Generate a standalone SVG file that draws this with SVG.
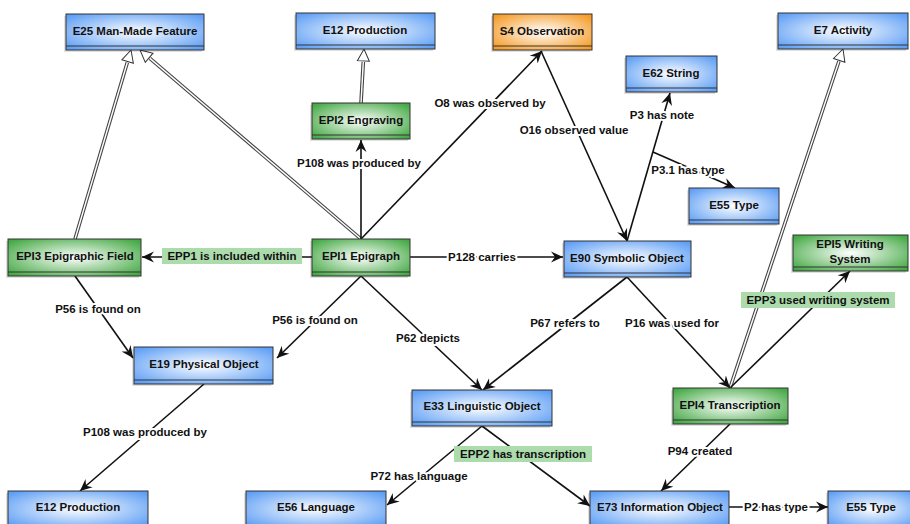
<svg xmlns="http://www.w3.org/2000/svg" width="910" height="524" viewBox="0 0 910 524">
<defs>
<radialGradient id="gb" cx="50%" cy="50%" r="65%">
<stop offset="0" stop-color="#ffffff"/><stop offset="1" stop-color="#5f9ff5"/>
</radialGradient>
<radialGradient id="gg" cx="50%" cy="50%" r="65%">
<stop offset="0" stop-color="#ffffff"/><stop offset="1" stop-color="#45a945"/>
</radialGradient>
<radialGradient id="go" cx="50%" cy="50%" r="65%">
<stop offset="0" stop-color="#ffffff"/><stop offset="1" stop-color="#f59a25"/>
</radialGradient>
<marker id="arr" markerUnits="userSpaceOnUse" markerWidth="14" markerHeight="12" refX="12" refY="6" orient="auto">
<path d="M0,0.5 L12,6 L0,11.5 L4,6 z" fill="#111"/>
</marker>
<marker id="gen" markerUnits="userSpaceOnUse" markerWidth="16" markerHeight="14" refX="13" refY="7" orient="auto">
<path d="M1,1 L13,7 L1,13 z" fill="#fff" stroke="#333" stroke-width="1"/>
</marker>
</defs>
<style>
text{font-family:"Liberation Sans",Arial,Helvetica,sans-serif;font-weight:bold;font-size:11.5px;fill:#111;}
.nt{text-anchor:middle;}
.box{stroke:#333;stroke-width:1;}
.b{fill:url(#gb);}
.g{fill:url(#gg);}
.o{fill:url(#go);}
.sh{fill:#000;opacity:0.12;}
.strip{stroke:#333;stroke-width:1;fill:none;}
.e{fill:none;stroke:#111;stroke-width:1.6;marker-end:url(#arr);}
.go{fill:none;stroke:#444;stroke-width:3.6;}
.gi{fill:none;stroke:#fff;stroke-width:1.4;}
.gt{fill:none;stroke:none;marker-end:url(#gen);}
.lb{text-anchor:middle;stroke:#fff;stroke-width:4;paint-order:stroke;stroke-linejoin:round;}
.gl{text-anchor:middle;}
.glb{fill:#acdcac;}
</style>

<g id="connectors">
<!-- generalizations -->
<path class="go" d="M75,239 L127.3,62.5"/><path class="gi" d="M75,239 L127.3,62.5"/><path class="gt" d="M127.3,62.5 L131,50"/>
<path class="go" d="M361,239 L149.9,58.4"/><path class="gi" d="M361,239 L149.9,58.4"/><path class="gt" d="M149.9,58.4 L140,50"/>
<path class="go" d="M361,103 L363.3,62"/><path class="gi" d="M361,103 L363.3,62"/><path class="gt" d="M363.3,62 L364,49"/>
<path class="go" d="M730,388 L838.9,61.3"/><path class="gi" d="M730,388 L838.9,61.3"/><path class="gt" d="M838.9,61.3 L843,49"/>
<!-- associations -->
<path class="e" d="M361,239 L361,140"/>
<path class="e" d="M361,239 L542,51"/>
<path class="e" d="M541,51 L627,241"/>
<path class="e" d="M627,241 L670,93"/>
<path class="e" d="M653,152 L735,188"/>
<path class="e" d="M410,257 L563,257"/>
<path class="e" d="M312,257 L142,257"/>
<path class="e" d="M75,276 L133,358"/>
<path class="e" d="M361,276 L277,358"/>
<path class="e" d="M361,276 L482,390"/>
<path class="e" d="M627,277 L483,390"/>
<path class="e" d="M627,277 L730,388"/>
<path class="e" d="M730,388 L850,271"/>
<path class="e" d="M204,384 L80,491"/>
<path class="e" d="M482,426 L387,505"/>
<path class="e" d="M482,426 L590,506"/>
<path class="e" d="M730,424 L661,491"/>
<path class="e" d="M729,507 L828,507"/>
<!-- labels -->
<text class="lb" x="359" y="167">P108 was produced by</text>
<text class="lb" x="490" y="107">O8 was observed by</text>
<text class="lb" x="574" y="134">O16 observed value</text>
<text class="lb" x="662" y="119">P3 has note</text>
<text class="lb" x="688" y="174">P3.1 has type</text>
<text class="lb" x="482" y="261">P128 carries</text>
<rect class="glb" x="162" y="248" width="140" height="16"/>
<text class="gl" x="232" y="260">EPP1 is included within</text>
<text class="lb" x="98" y="313">P56 is found on</text>
<text class="lb" x="315" y="324">P56 is found on</text>
<text class="lb" x="428" y="342">P62 depicts</text>
<text class="lb" x="565" y="327">P67 refers to</text>
<text class="lb" x="672" y="327">P16 was used for</text>
<rect class="glb" x="741" y="292" width="154" height="16"/>
<text class="gl" x="818" y="304">EPP3 used writing system</text>
<text class="lb" x="145" y="436">P108 was produced by</text>
<text class="lb" x="419" y="480">P72 has language</text>
<rect class="glb" x="454" y="446" width="138" height="16"/>
<text class="gl" x="523" y="458">EPP2 has transcription</text>
<text class="lb" x="700" y="455">P94 created</text>
<text class="lb" x="776" y="511">P2 has type</text>
</g>

<g id="E25"><rect class="sh" x="64" y="16" width="138" height="36"/><rect class="box b" x="66" y="14" width="138" height="36"/><line class="strip" x1="66" y1="46" x2="204" y2="46"/><text class="nt" x="135" y="35">E25 Man-Made Feature</text></g>
<g id="E12a"><rect class="sh" x="294" y="15" width="139" height="36"/><rect class="box b" x="296" y="13" width="139" height="36"/><line class="strip" x1="296" y1="45" x2="435" y2="45"/><text class="nt" x="365" y="34">E12 Production</text></g>
<g id="EPI2"><rect class="sh" x="310" y="105" width="98" height="36"/><rect class="box g" x="312" y="103" width="98" height="36"/><line class="strip" x1="312" y1="135" x2="410" y2="135"/><text class="nt" x="361" y="124">EPI2 Engraving</text></g>
<g id="S4"><rect class="sh" x="491" y="16" width="99" height="36"/><rect class="box o" x="493" y="14" width="99" height="36"/><line class="strip" x1="493" y1="46" x2="592" y2="46"/><text class="nt" x="542" y="35">S4 Observation</text></g>
<g id="E62"><rect class="sh" x="624" y="58" width="91" height="36"/><rect class="box b" x="626" y="56" width="91" height="36"/><line class="strip" x1="626" y1="88" x2="717" y2="88"/><text class="nt" x="671" y="77">E62 String</text></g>
<g id="E7"><rect class="sh" x="776" y="15" width="130" height="36"/><rect class="box b" x="778" y="13" width="130" height="36"/><line class="strip" x1="778" y1="45" x2="908" y2="45"/><text class="nt" x="843" y="34">E7 Activity</text></g>
<g id="E55a"><rect class="sh" x="687" y="190" width="90" height="36"/><rect class="box b" x="689" y="188" width="90" height="36"/><line class="strip" x1="689" y1="220" x2="779" y2="220"/><text class="nt" x="734" y="209">E55 Type</text></g>
<g id="EPI5"><rect class="sh" x="791" y="237" width="115" height="36"/><rect class="box g" x="793" y="235" width="115" height="36"/><line class="strip" x1="793" y1="267" x2="908" y2="267"/><text class="nt" x="850" y="248">EPI5 Writing</text><text class="nt" x="850" y="263">System</text></g>
<g id="E90"><rect class="sh" x="562" y="243" width="127" height="36"/><rect class="box b" x="564" y="241" width="127" height="36"/><line class="strip" x1="564" y1="273" x2="691" y2="273"/><text class="nt" x="627" y="262">E90 Symbolic Object</text></g>
<g id="EPI3"><rect class="sh" x="6" y="241" width="133" height="37"/><rect class="box g" x="8" y="239" width="133" height="37"/><line class="strip" x1="8" y1="272" x2="141" y2="272"/><text class="nt" x="75" y="260">EPI3 Epigraphic Field</text></g>
<g id="EPI1"><rect class="sh" x="310" y="241" width="98" height="37"/><rect class="box g" x="312" y="239" width="98" height="37"/><line class="strip" x1="312" y1="272" x2="410" y2="272"/><text class="nt" x="361" y="260">EPI1 Epigraph</text></g>
<g id="E19"><rect class="sh" x="132" y="349" width="139" height="37"/><rect class="box b" x="134" y="347" width="139" height="37"/><line class="strip" x1="134" y1="380" x2="273" y2="380"/><text class="nt" x="204" y="368">E19 Physical Object</text></g>
<g id="E33"><rect class="sh" x="410" y="392" width="140" height="36"/><rect class="box b" x="412" y="390" width="140" height="36"/><line class="strip" x1="412" y1="422" x2="552" y2="422"/><text class="nt" x="482" y="410">E33 Linguistic Object</text></g>
<g id="EPI4"><rect class="sh" x="671" y="390" width="115" height="36"/><rect class="box g" x="673" y="388" width="115" height="36"/><line class="strip" x1="673" y1="420" x2="788" y2="420"/><text class="nt" x="730" y="409">EPI4 Transcription</text></g>
<g id="E12b"><rect class="sh" x="6" y="493" width="140" height="36"/><rect class="box b" x="8" y="491" width="140" height="36"/><text class="nt" x="78" y="511">E12 Production</text></g>
<g id="E56"><rect class="sh" x="244" y="493" width="140" height="36"/><rect class="box b" x="246" y="491" width="140" height="36"/><text class="nt" x="316" y="511">E56 Language</text></g>
<g id="E73"><rect class="sh" x="588" y="493" width="139" height="36"/><rect class="box b" x="590" y="491" width="139" height="36"/><text class="nt" x="660" y="511">E73 Information Object</text></g>
<g id="E55b"><rect class="sh" x="826" y="493" width="90" height="36"/><rect class="box b" x="828" y="491" width="90" height="36"/><text class="nt" x="871" y="511">E55 Type</text></g>
</svg>
